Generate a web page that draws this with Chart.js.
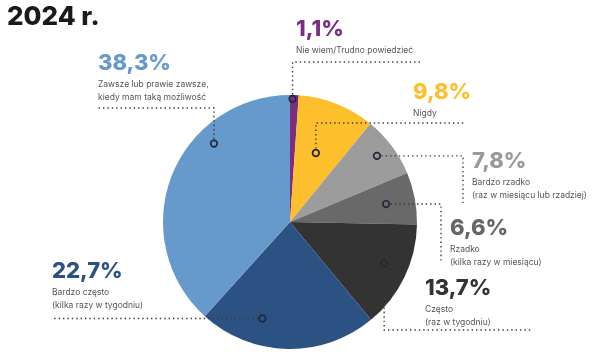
<!DOCTYPE html>
<html lang="pl">
<head>
<meta charset="utf-8">
<title>2024 r.</title>
<script src="https://cdn.jsdelivr.net/npm/chart.js@4.4.1/dist/chart.umd.min.js"></script>
<style>
  html, body { margin: 0; padding: 0; background: #fff; }
  #wrap { position: relative; width: 592px; height: 358px; }
</style>
</head>
<body>
<div id="wrap"><canvas id="pieChart" width="592" height="358"></canvas></div>
<script>
// Dane wykresu (zgodnie z ruchem wskazówek zegara od godz. 12)
const title = '2024 r.';
const categories = [
    ['Nie wiem/Trudno powiedzieć'],
    ['Nigdy'],
    ['Bardzo rzadko', '(raz w miesiącu lub rzadziej)'],
    ['Rzadko', '(kilka razy w miesiącu)'],
    ['Często', '(raz w tygodniu)'],
    ['Bardzo często', '(kilka razy w tygodniu)'],
    ['Zawsze lub prawie zawsze,', 'kiedy mam taką możliwość']
];
const values = [1.1, 9.8, 7.8, 6.6, 13.7, 22.7, 38.3];

// Kolory wycinków i etykiet
const sliceColors = ['#7b2d80', '#fdbf2b', '#9c9c9c', '#696969', '#333333', '#2c5283', '#6699cc'];
const labelColors = ['#7b2d80', '#fdbf2b', '#9a9a9a', '#666666', '#333333', '#2c5283', '#6699cc'];

// Położenie znacznika w wycinku: ułamek kąta i ułamek promienia
const markerT = [0.3, 0.47, 0.48, 0.51, 0.46, 0.68, 0.68];
const markerR = [0.97, 0.58, 0.86, 0.77, 0.81, 0.79, 0.86];

// Linie kropkowane (względem środka koła): 'v' = do y, 'h' = do x
const leaderPaths = [
    [['v', -160], ['h', 130]],
    [['v', -99], ['h', 175]],
    [['h', 173], ['v', -19]],
    [['h', 151], ['v', 41]],
    [['v', 108], ['h', 242]],
    [['h', -238]],
    [['v', -114], ['h', -193]]
];

// Pozycje etykiet (lewy brzeg, linia bazowa procentu) względem środka
const labelPos = [[6, -186], [123, -123], [182, -54], [160, 13], [135, 73], [-238, 56], [-192, -152]];

function formatPct(v) {
    return v.toFixed(1).replace('.', ',') + '%';
}

// Plugin rysujący tytuł, linie, znaczniki i etykiety
const calloutPlugin = {
    id: 'callouts',
    afterDraw: function(chart) {
        const ctx = chart.ctx;
        const meta = chart.getDatasetMeta(0);

        ctx.save();
        ctx.fillStyle = '#1a1a1a';
        ctx.font = '800 26px Inter, sans-serif';
        ctx.textBaseline = 'alphabetic';
        ctx.fillText(title, 7, 25);

        const points = [];
        meta.data.forEach(function(arc, i) {
            const a = arc.startAngle + markerT[i] * (arc.endAngle - arc.startAngle);
            const r = arc.outerRadius * markerR[i];
            points.push({ x: arc.x + Math.cos(a) * r, y: arc.y + Math.sin(a) * r, cx: arc.x, cy: arc.y });
        });

        // linie kropkowane
        ctx.strokeStyle = '#3a3a3a';
        ctx.lineWidth = 1.4;
        ctx.setLineDash([1.4, 3]);
        points.forEach(function(p, i) {
            let x = p.x, y = p.y;
            ctx.beginPath();
            ctx.moveTo(x, y);
            leaderPaths[i].forEach(function(seg) {
                if (seg[0] === 'v') { y = p.cy + seg[1]; } else { x = p.cx + seg[1]; }
                ctx.lineTo(x, y);
            });
            ctx.stroke();
        });
        ctx.setLineDash([]);

        // znaczniki
        points.forEach(function(p, i) {
            ctx.beginPath();
            ctx.arc(p.x, p.y, 3.3, 0, Math.PI * 2);
            ctx.fillStyle = sliceColors[i];
            ctx.fill();
            ctx.lineWidth = 1.7;
            ctx.strokeStyle = '#22283a';
            ctx.stroke();
        });

        // etykiety
        points.forEach(function(p, i) {
            const lx = p.cx + labelPos[i][0];
            const ly = p.cy + labelPos[i][1];
            ctx.fillStyle = labelColors[i];
            ctx.font = '800 22px Inter, sans-serif';
            ctx.fillText(formatPct(values[i]), lx, ly);
            ctx.fillStyle = '#555555';
            ctx.font = '8.5px Inter, sans-serif';
            categories[i].forEach(function(line, j) {
                ctx.fillText(line, lx, ly + 17 + j * 13);
            });
        });
        ctx.restore();
    }
};

window.onload = function() {
    const ctx = document.getElementById('pieChart').getContext('2d');
    new Chart(ctx, {
        type: 'pie',
        data: {
            labels: categories.map(function(c) { return c.join(' '); }),
            datasets: [{
                data: values,
                backgroundColor: sliceColors,
                borderWidth: 0
            }]
        },
        options: {
            responsive: false,
            animation: false,
            events: [],
            layout: { padding: { top: 95, bottom: 9, left: 163, right: 175 } },
            plugins: {
                legend: { display: false },
                tooltip: { enabled: false }
            }
        },
        plugins: [calloutPlugin]
    });
};
</script>
</body>
</html>
